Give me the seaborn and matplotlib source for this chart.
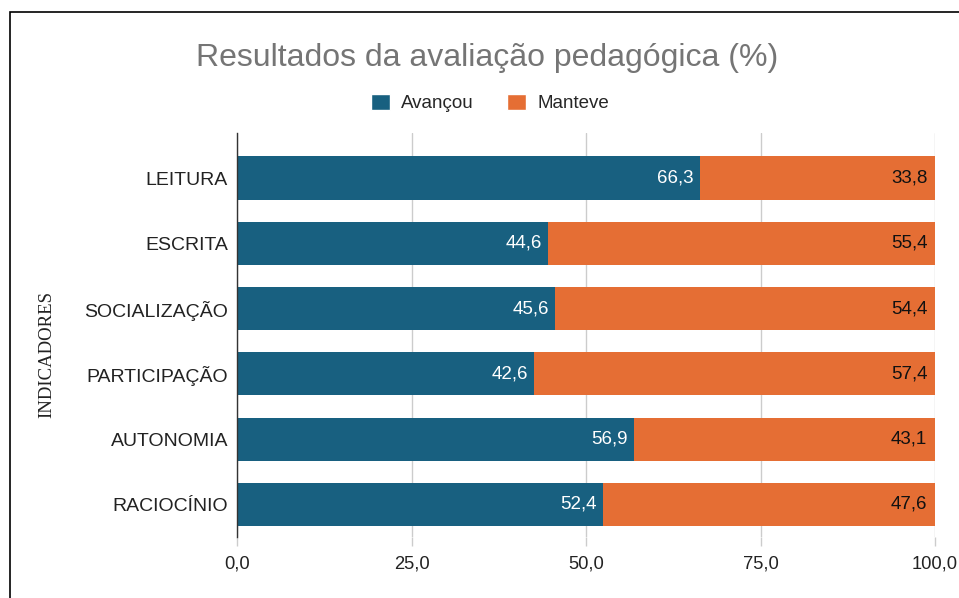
import matplotlib
matplotlib.use('Agg')
import matplotlib.pyplot as plt
import seaborn as sns
import pandas as pd
from matplotlib.patches import Rectangle, Patch

# data
indicadores = ['LEITURA', 'ESCRITA', 'SOCIALIZAÇÃO', 'PARTICIPAÇÃO', 'AUTONOMIA', 'RACIOCÍNIO']
avancou = [66.3, 44.6, 45.6, 42.6, 56.9, 52.4]
manteve = [33.8, 55.4, 54.4, 57.4, 43.1, 47.6]
x_ticks = [0, 25, 50, 75, 100]

blue = '#186080'
orange = '#E56E34'

sns.set_style('white')
plt.rcParams['font.family'] = ['Liberation Sans', 'DejaVu Sans']

df = pd.DataFrame({'Indicador': indicadores, 'Avançou': avancou, 'Manteve': manteve})
df['Total'] = df['Avançou'] + df['Manteve']

fig = plt.figure(figsize=(9.59, 5.98), dpi=100)
ax = fig.add_axes([237 / 959, 1 - 537 / 598, 698 / 959, 404 / 598])

# stacked bars: total in orange underneath, blue on top
sns.barplot(data=df, x='Total', y='Indicador', orient='h', color=orange,
            width=0.66, ax=ax, zorder=2, saturation=1, linewidth=0)
sns.barplot(data=df, x='Avançou', y='Indicador', orient='h', color=blue,
            width=0.66, ax=ax, zorder=3, saturation=1, linewidth=0)

ax.set_xlim(0, 100)
ax.set_ylim(5.5, -0.69)
ax.set_xticks(x_ticks)
ax.set_xticklabels([f'{v:.1f}'.replace('.', ',') for v in x_ticks])
ax.xaxis.grid(True, color='#cccccc', lw=1, zorder=0)
ax.set_axisbelow(True)
for s in ['top', 'right', 'bottom']:
    ax.spines[s].set_visible(False)
ax.spines['left'].set_color('#333333')
ax.spines['left'].set_linewidth(1)
ax.spines['left'].set_zorder(4)

ax.tick_params(axis='x', length=6.5, width=1, color='#cccccc', pad=7,
               labelsize=13.2, labelcolor='#222222', bottom=True)
ax.get_xticklines()[0].set_color('#333333')
ax.tick_params(axis='y', length=0, pad=6.5, labelsize=14, labelcolor='#222222')
ax.set_xlabel('')
ax.set_ylabel('')

# value labels
for i, (a, m) in enumerate(zip(avancou, manteve)):
    ax.text(a - 0.9, i, f'{a:.1f}'.replace('.', ','), ha='right', va='center',
            color='white', fontsize=13.5, zorder=5)
    ax.text(min(a + m, 100) - 1.1, i, f'{m:.1f}'.replace('.', ','), ha='right',
            va='center', color='#111111', fontsize=13.5, zorder=5)

fig.text(487 / 959, 1 - 58 / 598, 'Resultados da avaliação pedagógica (%)',
         ha='center', va='center', fontsize=23, color='#757575')
fig.text(47 / 959, 1 - 355 / 598, 'INDICADORES', rotation=90, ha='center',
         va='center', fontsize=13.5, color='#222222',
         family=['Liberation Serif', 'DejaVu Serif'])

handles = [Patch(facecolor=blue, label='Avançou'), Patch(facecolor=orange, label='Manteve')]
fig.legend(handles=handles, loc='center', bbox_to_anchor=(490 / 959, 1 - 103 / 598),
           ncol=2, frameon=False, fontsize=13.5, handlelength=1.0, handleheight=1.0,
           handletextpad=0.6, columnspacing=1.8)

# frame around the chart (cropped at right and bottom)
fig.patches.append(Rectangle((10 / 959, -0.1), 2, 1.1 - 12 / 598, transform=fig.transFigure,
                             fill=False, ec='black', lw=1.2))

fig.savefig('out.png', dpi=100)
